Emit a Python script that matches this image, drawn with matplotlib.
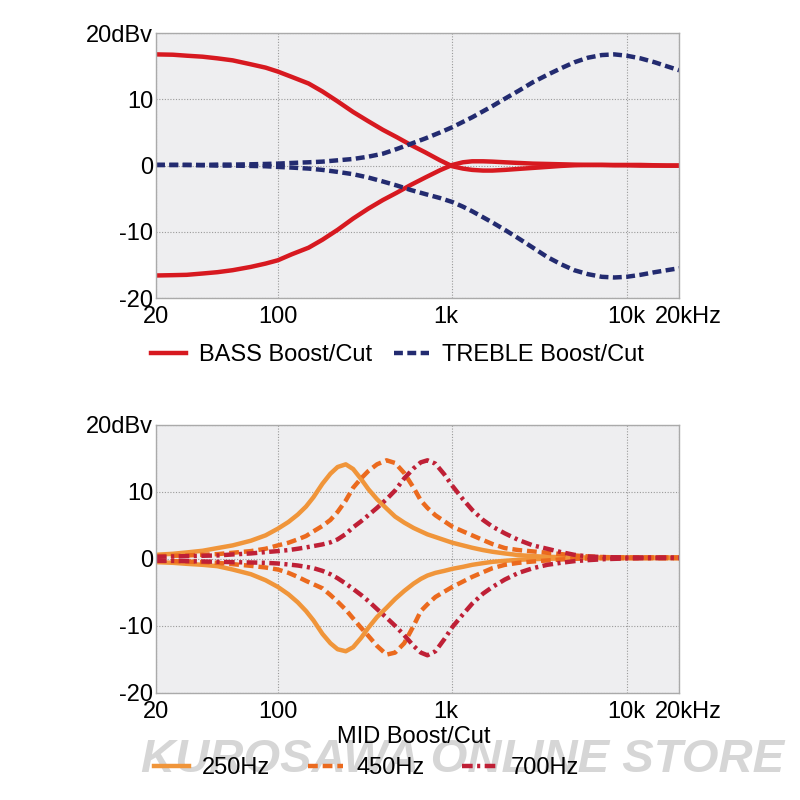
import matplotlib
matplotlib.use("Agg")
import matplotlib.pyplot as plt
from matplotlib.transforms import ScaledTranslation

freq_haut = [20, 25, 30, 37, 45, 55, 70, 85,
             100, 120, 150, 180, 220, 270, 330, 400,
             480, 580, 700, 850, 1000, 1150, 1300, 1500,
             1700, 2000, 2400, 2900, 3500, 4200, 5000, 6000,
             7200, 8500, 10000, 12000, 14500, 17000, 20000]
bass_boost = [16.8, 16.75, 16.6, 16.45, 16.2, 15.9, 15.3, 14.8,
              14.2, 13.4, 12.4, 11.2, 9.7, 8.1, 6.7, 5.4,
              4.3, 3.1, 2.0, 0.8, -0.1, -0.45, -0.65, -0.75,
              -0.75, -0.65, -0.5, -0.35, -0.2, -0.05, 0.05, 0.1,
              0.1, 0.1, 0.1, 0.1, 0.05, 0.0, 0.0]
bass_cut = [-16.6, -16.55, -16.5, -16.3, -16.1, -15.8, -15.3, -14.8,
            -14.3, -13.4, -12.4, -11.2, -9.7, -8.0, -6.5, -5.2,
            -4.1, -2.9, -1.8, -0.7, 0.1, 0.5, 0.65, 0.65,
            0.6, 0.5, 0.4, 0.3, 0.25, 0.2, 0.15, 0.1,
            0.1, 0.05, 0.05, 0.0, 0.0, 0.0, 0.0]
treble_boost = [0.1, 0.1, 0.1, 0.1, 0.15, 0.15, 0.2, 0.25,
                0.3, 0.4, 0.5, 0.6, 0.8, 1.0, 1.35, 1.8,
                2.5, 3.3, 4.1, 5.0, 5.8, 6.6, 7.3, 8.2,
                9.0, 10.1, 11.3, 12.6, 13.7, 14.7, 15.6, 16.3,
                16.7, 16.8, 16.6, 16.2, 15.6, 15.0, 14.4]
treble_cut = [0.1, 0.1, 0.1, 0.05, 0.0, 0.0, -0.05, -0.1,
              -0.2, -0.3, -0.45, -0.65, -0.95, -1.3, -1.8, -2.4,
              -3.0, -3.7, -4.3, -4.9, -5.5, -6.2, -6.9, -7.8,
              -8.6, -9.7, -11.0, -12.4, -13.8, -14.9, -15.8, -16.4,
              -16.8, -16.9, -16.8, -16.5, -16.1, -15.8, -15.5]

# graphique du bas (MID)
freq_bas = [20, 25, 30, 37, 45, 55, 70, 85, 100,
            115, 130, 145, 160, 180, 200, 220, 245, 270,
            300, 330, 370, 420, 470, 530, 600, 660, 720,
            800, 900, 1000, 1150, 1300, 1500, 1700, 2000, 2400,
            2900, 3500, 4200, 5000, 6000, 7500, 10000, 14000, 20000]
mid250_boost = [0.6, 0.75, 0.95, 1.2, 1.6, 2.0, 2.7, 3.5, 4.5,
                5.5, 6.6, 7.8, 9.2, 11.2, 12.7, 13.7, 14.1, 13.4,
                11.9, 10.4, 8.9, 7.5, 6.3, 5.4, 4.6, 4.1, 3.65,
                3.25, 2.8, 2.4, 2.0, 1.65, 1.3, 1.05, 0.8, 0.55,
                0.4, 0.3, 0.25, 0.2, 0.2, 0.2, 0.2, 0.2, 0.2]
mid250_cut = [-0.5, -0.6, -0.75, -0.9, -1.1, -1.6, -2.3, -3.2, -4.2,
              -5.3, -6.5, -7.8, -9.2, -11.2, -12.6, -13.5, -13.8, -13.2,
              -11.8, -10.3, -8.7, -7.3, -6.0, -4.8, -3.7, -3.0, -2.5,
              -2.1, -1.8, -1.5, -1.2, -0.9, -0.65, -0.45, -0.3, -0.15,
              -0.05, 0.0, 0.05, 0.1, 0.1, 0.1, 0.1, 0.1, 0.1]
mid450_boost = [0.4, 0.45, 0.5, 0.6, 0.7, 0.9, 1.15, 1.5, 2.0,
                2.4, 2.9, 3.4, 4.1, 4.9, 5.8, 7.0, 8.7, 10.6,
                12.0, 13.1, 14.1, 14.7, 14.3, 12.8, 10.6, 8.7, 7.6,
                6.5, 5.6, 4.8, 4.1, 3.5, 2.8, 2.2, 1.6, 1.3,
                1.1, 0.9, 0.7, 0.5, 0.35, 0.25, 0.2, 0.2, 0.2]
mid450_cut = [-0.3, -0.35, -0.4, -0.5, -0.6, -0.8, -1.05, -1.3, -1.6,
              -2.1, -2.7, -3.3, -3.8, -4.4, -5.4, -6.4, -7.6, -8.9,
              -10.3, -11.5, -13.0, -14.3, -14.0, -12.6, -10.0, -7.8, -6.8,
              -5.7, -4.9, -4.2, -3.4, -2.7, -2.0, -1.4, -0.9, -0.6,
              -0.4, -0.25, -0.1, 0.0, 0.05, 0.1, 0.1, 0.1, 0.1]
mid700_boost = [0.3, 0.35, 0.4, 0.45, 0.5, 0.65, 0.8, 1.0, 1.15,
                1.3, 1.5, 1.7, 1.9, 2.15, 2.45, 2.9, 3.7, 4.7,
                5.6, 6.5, 7.6, 8.9, 10.2, 12.0, 13.5, 14.4, 14.7,
                14.2, 12.6, 10.9, 8.9, 7.3, 5.8, 4.8, 3.8, 2.8,
                2.0, 1.5, 1.0, 0.6, 0.35, 0.25, 0.2, 0.2, 0.2]
mid700_cut = [-0.3, -0.3, -0.35, -0.4, -0.45, -0.5, -0.55, -0.6, -0.7,
              -0.85, -1.0, -1.2, -1.4, -1.8, -2.3, -2.9, -3.7, -4.5,
              -5.4, -6.3, -7.5, -8.8, -10.0, -11.4, -13.0, -14.0, -14.4,
              -13.8, -12.0, -10.2, -8.3, -6.7, -5.2, -4.2, -3.1, -2.1,
              -1.4, -0.9, -0.6, -0.35, -0.2, -0.05, 0.05, 0.1, 0.1]

xticks = [20, 100, 1000, 10000, 20000]
xlabels = ["20", "100", "1k", "10k", "20kHz"]
yticks = [-20, -10, 0, 10, 20]
ylabels = ["-20", "-10", "0", "10", "20dBv"]

rouge = "#d71920"
marine = "#232b70"
orange_clair = "#f0953a"
orange = "#eb6a1e"
cramoisi = "#bf2036"

plt.rcParams['font.family'] = ['Liberation Sans', 'DejaVu Sans']
taille = 17

fig = plt.figure(figsize=(8, 8), dpi=100)
fig.patch.set_facecolor("white")


def prepare_axe(ax):
    ax.set_facecolor("#eeeef0")
    ax.set_xscale("log")
    ax.set_xlim(20, 20000)
    ax.set_ylim(-20, 20)
    ax.set_xticks(xticks)
    ax.set_xticklabels(xlabels, fontsize=taille)
    ax.set_yticks(yticks)
    ax.set_yticklabels(ylabels, fontsize=taille)
    ax.xaxis.set_minor_locator(matplotlib.ticker.NullLocator())
    ax.tick_params(length=0, pad=6, axis="x")
    ax.tick_params(length=0, pad=2, axis="y")
    ax.grid(True, color="#9a9a9a", linestyle=(0, (1, 1.5)), linewidth=0.8)
    for s in ax.spines.values():
        s.set_color("#aaaaaa")
        s.set_linewidth(1.0)
    # 20kHz decale vers la droite, 1k un peu a gauche, comme sur l'original
    lab = ax.get_xticklabels()[-1]
    lab.set_transform(lab.get_transform() + ScaledTranslation(9 / 100, 0, fig.dpi_scale_trans))
    lab = ax.get_xticklabels()[2]
    lab.set_transform(lab.get_transform() + ScaledTranslation(-7 / 100, 0, fig.dpi_scale_trans))


# graphique du haut : BASS / TREBLE
ax1 = fig.add_axes([0.195, 0.6275, 0.654, 0.331])
prepare_axe(ax1)
ax1.plot(freq_haut, bass_boost, color=rouge, lw=3.2, label="BASS Boost/Cut")
ax1.plot(freq_haut, bass_cut, color=rouge, lw=3.2)
ax1.plot(freq_haut, treble_boost, color=marine, lw=3.2, dashes=(2.0, 1.0), label="TREBLE Boost/Cut")
ax1.plot(freq_haut, treble_cut, color=marine, lw=3.2, dashes=(2.0, 1.0))

fig.legend(handles=ax1.get_lines()[::2], loc="center", bbox_to_anchor=(0.497, 0.556), ncol=2,
           frameon=False, fontsize=taille, handlelength=1.5, handletextpad=0.55, columnspacing=0.9)

# graphique du bas : MID
ax2 = fig.add_axes([0.195, 0.134, 0.654, 0.335])
prepare_axe(ax2)
l1, = ax2.plot(freq_bas, mid250_boost, color=orange_clair, lw=3.2, label="250Hz")
ax2.plot(freq_bas, mid250_cut, color=orange_clair, lw=3.2)
l2, = ax2.plot(freq_bas, mid450_boost, color=orange, lw=3.2, dashes=(2.2, 1.1), label="450Hz")
ax2.plot(freq_bas, mid450_cut, color=orange, lw=3.2, dashes=(2.2, 1.1))
l3, = ax2.plot(freq_bas, mid700_boost, color=cramoisi, lw=3.2, dashes=(2.4, 1.0, 0.7, 1.0), label="700Hz")
ax2.plot(freq_bas, mid700_cut, color=cramoisi, lw=3.2, dashes=(2.4, 1.0, 0.7, 1.0))

# filigrane
fig.text(0.578, 0.05, "KUROSAWA ONLINE STORE", fontsize=34, fontweight="bold", fontstyle="italic",
         color="#d6d6d6", ha="center", va="center", zorder=0)

fig.text(0.5175, 0.079, "MID Boost/Cut", fontsize=taille, ha="center", va="center")
fig.legend(handles=[l1, l2, l3], loc="center", bbox_to_anchor=(0.458, 0.04), ncol=3,
           frameon=False, fontsize=taille, handlelength=1.5, handletextpad=0.55, columnspacing=1.6)

fig.savefig("out.png", dpi=100)
